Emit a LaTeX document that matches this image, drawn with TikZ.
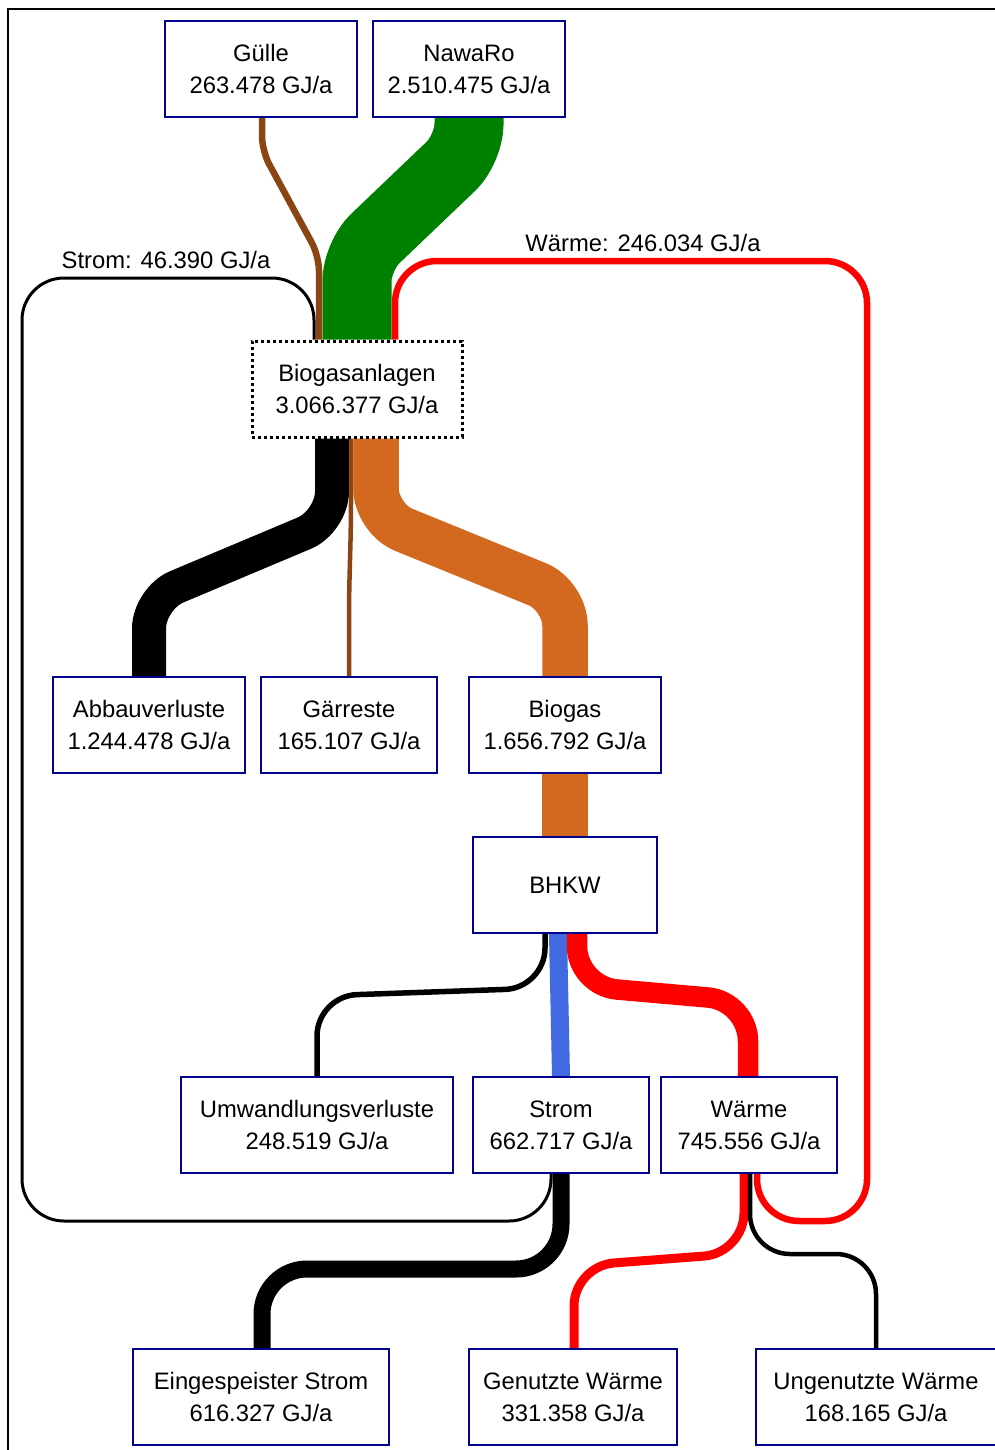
\documentclass[tikz,border=0pt]{standalone}
\usepackage{fontspec}
\setmainfont{Liberation Sans}
\usetikzlibrary{backgrounds}
\definecolor{boxblue}{RGB}{0,0,140}
\definecolor{nawarogreen}{RGB}{0,128,0}
\definecolor{guellebrown}{RGB}{139,69,19}
\definecolor{biogasorange}{RGB}{210,105,30}
\definecolor{stromblue}{RGB}{65,105,225}
\tikzset{
  box/.style={draw=boxblue, line width=2pt, fill=white, minimum height=96pt,
    inner sep=0pt, align=center, font=\fontsize{23.8}{32}\selectfont},
  flow/.style={line width=#1pt},
  flowlabel/.style={font=\fontsize{23.8}{32}\selectfont, text=black,
    inner sep=0pt, anchor=base}
}

\begin{document}
\begin{tikzpicture}[x=1pt, y=-1pt]
\useasboundingbox (0,0) rectangle (995,1450);
% frame
\draw[line width=1.8pt] (8,1460) -- (8,9) -- (1005,9);
% boxes
\foreach \name/\x/\y/\w/\txt in {
    guelle/261/69/192/{Gülle\\263.478 GJ/a},
    nawaro/469/69/192/{NawaRo\\2.510.475 GJ/a},
    abbau/149/725/192/{Abbauverluste\\1.244.478 GJ/a},
    gaerrest/349/725/176/{Gärreste\\165.107 GJ/a},
    biogas/565/725/192/{Biogas\\1.656.792 GJ/a},
    bhkw/565/885/184/{BHKW},
    umwandl/317/1125/272/{Umwandlungsverluste\\248.519 GJ/a},
    strom/561/1125/176/{Strom\\662.717 GJ/a},
    waerme/749/1125/176/{Wärme\\745.556 GJ/a},
    einspeis/261/1397/256/{Eingespeister Strom\\616.327 GJ/a},
    genutzt/573/1397/208/{Genutzte Wärme\\331.358 GJ/a},
    ungenutzt/876/1397/240/{Ungenutzte Wärme\\168.165 GJ/a}} {
  \node[box, minimum width=\w pt] (\name) at (\x,\y) {\txt};
}
\node[box, draw=black, line width=3pt, dash pattern=on 3pt off 3pt,
  minimum width=210pt] (anlage) at (357,389) {Biogasanlagen\\3.066.377 GJ/a};

\begin{scope}[on background layer]
% inputs
\draw[flow=6.5, guellebrown, rounded corners=15] ([xshift=1]guelle.south)
  -- ++(0,33) -- ++(57,105) -- ([xshift=-38]anlage.north);
\draw[flow=69, nawarogreen, rounded corners=25] (nawaro.south)
  -- ++(0,31) -- ++(-112,107) -- (anlage.north);
% returns to the plants
\draw[flow=3, rounded corners=42] ([xshift=-10]strom.south)
  -- ++(0,47) -- ++(-529,0) -- ++(0,-943)
  -- node[flowlabel, xshift=-2, yshift=10] {Strom: 46.390 GJ/a} ++(292,0)
  -- ([xshift=-43]anlage.north);
\draw[flow=6.5, red, rounded corners=42] ([xshift=8]waerme.south)
  -- ++(0,47) -- ++(110,0) -- ++(0,-960)
  -- node[flowlabel, xshift=12, yshift=10] {Wärme: 246.034 GJ/a} ++(-472,0)
  -- ([xshift=38]anlage.north);
% outputs of the plants
\draw[flow=34, rounded corners=30] ([xshift=-25]anlage.south)
  -- ++(0,83) -- ++(-183,77) -- (abbau.north);
\draw[flow=4.5, guellebrown, rounded corners=20] ([xshift=-6]anlage.south)
  -- ++(0,83) -- ++(-2,77) -- (gaerrest.north);
\draw[flow=45.5, biogasorange, rounded corners=30] ([xshift=19]anlage.south)
  -- ++(0,80) -- ++(189,77) -- (biogas.north);
\draw[flow=45.5, biogasorange] (biogas.south) -- (bhkw.north);
% BHKW
\draw[flow=5.5, rounded corners=40] ([xshift=-20]bhkw.south)
  -- ++(0,54) -- ++(-228,8) -- (umwandl.north);
\draw[flow=18, stromblue] ([xshift=-7]bhkw.south) -- (strom.north);
\draw[flow=20.5, red, rounded corners=40] ([xshift=12]bhkw.south)
  -- ++(0,52) -- ++(171,15) -- ([xshift=-1]waerme.north);
% use of power and heat
\draw[flow=17, rounded corners=45] (strom.south)
  -- ++(0,95) -- ++(-299,0) -- ([xshift=1]einspeis.north);
\draw[flow=9, red, rounded corners=40] ([xshift=-5]waerme.south)
  -- ++(0,79) -- ++(-170,13) -- ([xshift=1]genutzt.north);
\draw[flow=4.5, rounded corners=40] ([xshift=1]waerme.south)
  -- ++(0,80) -- ++(126,0) -- (ungenutzt.north);
\end{scope}
\end{tikzpicture}
\end{document}
